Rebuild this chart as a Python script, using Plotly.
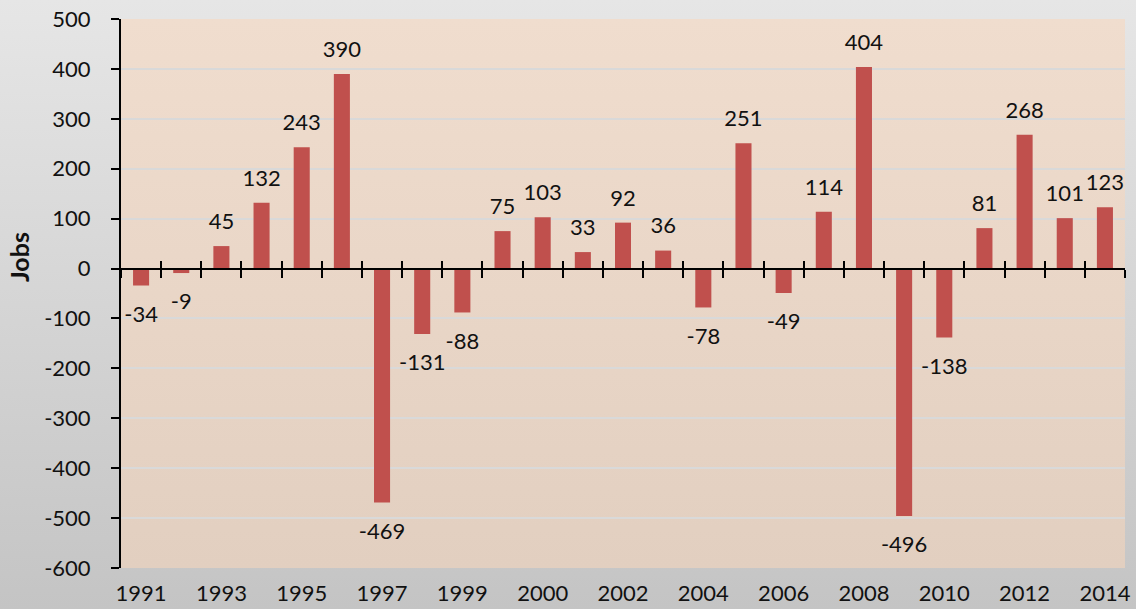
import base64
import plotly.graph_objects as go

# ---- data ----
values = [-34, -9, 45, 132, 243, 390, -469, -131, -88, 75, 103, 33, 92, 36,
          -78, 251, -49, 114, 404, -496, -138, 81, 268, 101, 123]
tick_labels = ["1991", "1993", "1995", "1997", "1999", "2000", "2002", "2004",
               "2006", "2008", "2010", "2012", "2014"]
label_every = 2
y_title = "Jobs"
y_ticks = [-600, -500, -400, -300, -200, -100, 0, 100, 200, 300, 400, 500]

# ---- layout constants ----
W, H = 1136, 609
L, R, T, B = 121, 11, 19, 41
FONT = "Lato, Open Sans, sans-serif"
FS = 22
BAR_COLOR = "#c0504d"
TXT = "#111111"

x_idx = list(range(len(values)))
n = len(values)
y_min, y_max = y_ticks[0], y_ticks[-1]


def grad_svg(top, bottom):
    svg = ("<svg xmlns='http://www.w3.org/2000/svg' width='100' height='100' preserveAspectRatio='none'>"
           "<defs><linearGradient id='g' x1='0' y1='0' x2='0' y2='1'>"
           f"<stop offset='0' stop-color='{top}'/><stop offset='1' stop-color='{bottom}'/>"
           "</linearGradient></defs><rect width='100' height='100' fill='url(#g)'/></svg>")
    return "data:image/svg+xml;base64," + base64.b64encode(svg.encode()).decode()


fig = go.Figure()
fig.add_trace(go.Bar(
    x=x_idx, y=values,
    marker=dict(color=BAR_COLOR, line=dict(width=0)),
    width=0.4,
    hovertemplate="%{y}<extra></extra>",
))

# data labels: above positive bars, below negative bars
fig.add_trace(go.Scatter(
    x=x_idx, y=values,
    mode="markers+text",
    text=[str(v) for v in values],
    textposition=["top center" if v >= 0 else "bottom center" for v in values],
    marker=dict(size=[17 if v >= 0 else 30 for v in values], opacity=0),
    textfont=dict(family=FONT, size=FS, color=TXT),
    cliponaxis=False,
    hoverinfo="skip",
))

pw = W - L - R
ph = H - T - B
zero_pos = (0 - y_min) / (y_max - y_min)
boundaries = [i - 0.5 for i in range(n + 1)]

fig.update_layout(
    width=W, height=H,
    margin=dict(l=L, r=R, t=T, b=B, pad=0, autoexpand=False),
    paper_bgcolor="#d6d6d6",
    plot_bgcolor="rgba(0,0,0,0)",
    showlegend=False,
    font=dict(family=FONT, size=FS, color=TXT),
    images=[
        dict(source=grad_svg("#e6e6e6", "#c4c4c4"), xref="paper", yref="paper",
             x=-L / pw, y=1 + T / ph, sizex=W / pw, sizey=H / ph,
             sizing="stretch", xanchor="left", yanchor="top", layer="below"),
        dict(source=grad_svg("#f0ddce", "#e2cfc0"), xref="paper", yref="paper",
             x=0, y=1, sizex=1, sizey=1,
             sizing="stretch", xanchor="left", yanchor="top", layer="below"),
    ],
    xaxis=dict(
        range=[-0.5, n - 0.5],
        tickmode="array",
        tickvals=x_idx[::label_every],
        ticktext=tick_labels,
        showgrid=False, zeroline=False, showline=False,
        ticks="", ticklabelstandoff=10, automargin=False,
        tickfont=dict(family=FONT, size=FS, color=TXT),
    ),
    xaxis2=dict(
        overlaying="x", anchor="free", position=zero_pos,
        range=[-0.5, n - 0.5],
        tickmode="array", tickvals=boundaries, showticklabels=False,
        ticks="outside", ticklen=8, tickwidth=2, tickcolor="#000000",
        showline=True, linecolor="#000000", linewidth=2,
        showgrid=False, zeroline=False, automargin=False,
    ),
    xaxis3=dict(
        overlaying="x", anchor="free", position=zero_pos,
        range=[-0.5, n - 0.5],
        tickmode="array", tickvals=boundaries, showticklabels=False,
        ticks="inside", ticklen=8, tickwidth=2, tickcolor="#000000",
        showline=False, showgrid=False, zeroline=False, automargin=False,
    ),
    yaxis=dict(
        range=[y_min, y_max],
        tickmode="array", tickvals=y_ticks, ticktext=[str(v) for v in y_ticks],
        showgrid=True, gridcolor="#d9d9d9", gridwidth=1.5,
        zeroline=False,
        showline=True, linecolor="#000000", linewidth=2,
        ticks="outside", ticklen=8, tickwidth=2, tickcolor="#000000",
        ticklabelstandoff=16, automargin=False,
        tickfont=dict(family=FONT, size=FS, color=TXT),
    ),
    annotations=[dict(
        text=f"<b>{y_title}</b>", textangle=-90,
        xref="paper", yref="paper",
        x=(19 - L) / pw, y=(H - B - 257) / ph,
        xanchor="center", yanchor="middle", showarrow=False,
        font=dict(family=FONT, size=25, color=TXT),
    )],
)

# invisible traces to activate the overlay axes (zero line with crossing ticks)
fig.add_trace(go.Scatter(x=[0], y=[0], xaxis="x2", mode="markers",
                         marker=dict(opacity=0), hoverinfo="skip"))
fig.add_trace(go.Scatter(x=[0], y=[0], xaxis="x3", mode="markers",
                         marker=dict(opacity=0), hoverinfo="skip"))

fig.write_html("out.html",
               config={"displayModeBar": False},
               post_script="document.body.style.margin='0';document.body.style.overflow='hidden';")
